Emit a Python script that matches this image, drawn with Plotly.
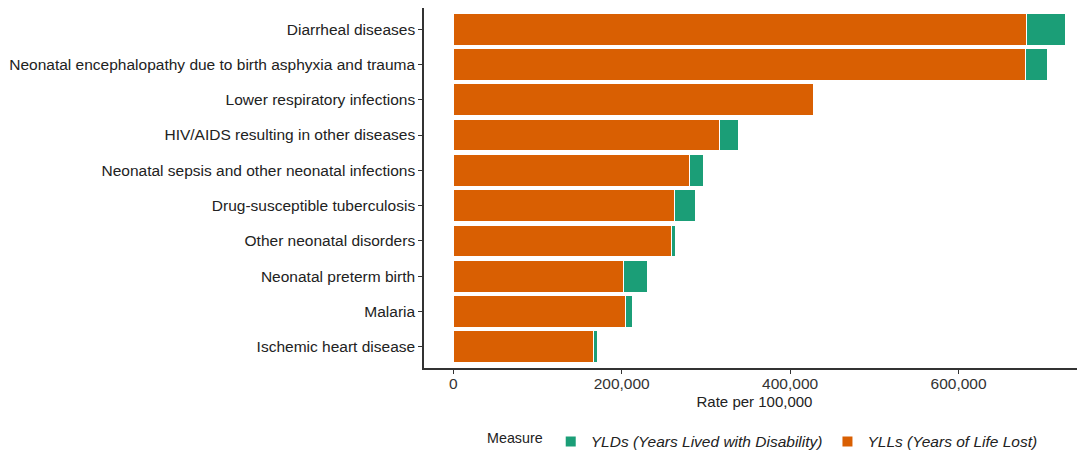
import plotly.graph_objects as go

causes = [
    "Diarrheal diseases",
    "Neonatal encephalopathy due to birth asphyxia and trauma",
    "Lower respiratory infections",
    "HIV/AIDS resulting in other diseases",
    "Neonatal sepsis and other neonatal infections",
    "Drug-susceptible tuberculosis",
    "Other neonatal disorders",
    "Neonatal preterm birth",
    "Malaria",
    "Ischemic heart disease",
]
ylls = [681300, 680100, 427800, 316700, 280700, 262100, 259400, 201900, 204300, 165900]
ylds = [46300, 25000, 1500, 21800, 16200, 25300, 4200, 29300, 8700, 5600]
x_ticks = [0, 200000, 400000, 600000]
x_tick_labels = ["0", "200,000", "400,000", "600,000"]

ORANGE = "#D95F02"
GREEN = "#1B9E77"
FONT = "Liberation Sans, Arial, sans-serif"

fig = go.Figure()
fig.add_trace(go.Bar(
    y=causes, x=ylls, orientation="h",
    name="<i>YLLs (Years of Life Lost)</i>",
    marker=dict(color=ORANGE, line=dict(color="white", width=1)),
))
fig.add_trace(go.Bar(
    y=causes, x=ylds, orientation="h",
    name="<i>YLDs (Years Lived with Disability)</i>",
    marker=dict(color=GREEN, line=dict(color="white", width=1)),
))

# page body has an 8px margin, so the figure is shrunk by that amount
fig.update_layout(
    width=1077, height=445,
    barmode="stack", bargap=0.1,
    plot_bgcolor="white", paper_bgcolor="white",
    margin=dict(l=416, r=0, t=0, b=85),
    font=dict(family=FONT, size=15.5, color="#222222"),
    legend=dict(
        orientation="h", traceorder="reversed",
        xref="container", yref="container",
        x=0.702, xanchor="center", y=0.025, yanchor="middle",
        title=dict(text="Measure", font=dict(size=14.3, color="#222222")),
        font=dict(size=15.5, color="#222222"),
        itemsizing="constant",
    ),
    xaxis=dict(
        range=[-34800, 750200],
        tickvals=x_ticks, ticktext=x_tick_labels,
        showline=True, linecolor="#333333", linewidth=1.5,
        ticks="outside", ticklen=4, tickcolor="#333333",
        ticklabelstandoff=-3,
        showgrid=False, zeroline=False,
        tickfont=dict(size=15.5, color="#333333"),
        title=dict(text="Rate per 100,000", standoff=5, font=dict(size=15, color="#222222")),
    ),
    yaxis=dict(
        range=[9.6, -0.6],
        showline=True, linecolor="#333333", linewidth=1.5,
        ticks="outside", ticklen=4, tickcolor="#333333",
        showgrid=False, zeroline=False,
        tickfont=dict(size=15.5, color="#222222"),
    ),
)

fig.write_html("out.html")
